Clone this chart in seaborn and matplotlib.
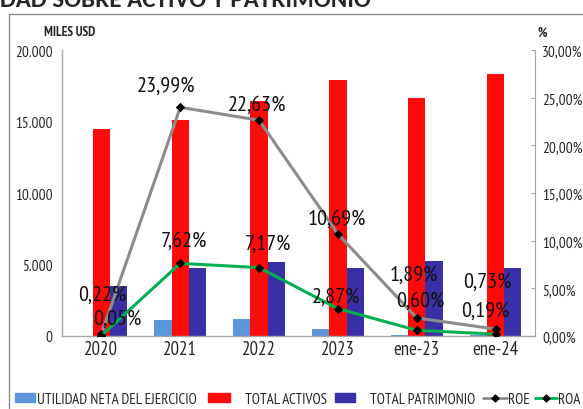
import numpy as np
import pandas as pd
import matplotlib
matplotlib.use("Agg")
import matplotlib.pyplot as plt
from matplotlib.lines import Line2D
from matplotlib.patches import Patch
import seaborn as sns

# ---------------- data ----------------
categories = ["2020", "2021", "2022", "2023", "ene-23", "ene-24"]
utilidad = [8, 1150, 1180, 510, 100, 35]
activos = [14500, 15100, 16450, 17900, 16650, 18300]
patrimonio = [3500, 4750, 5170, 4750, 5250, 4750]
roe = [0.22, 23.99, 22.63, 10.69, 1.89, 0.73]
roa = [0.05, 7.62, 7.17, 2.87, 0.60, 0.19]
series_names = ["UTILIDAD NETA DEL EJERCICIO", "TOTAL ACTIVOS", "TOTAL PATRIMONIO"]
line_names = ["ROE", "ROA"]
left_ticks = [0, 5000, 10000, 15000, 20000]
right_ticks = [0, 5, 10, 15, 20, 25, 30]

# ---------------- style ----------------
sns.set_style("white")
FONT = ["PT Sans Narrow", "Carlito", "DejaVu Sans"]
plt.rcParams["font.family"] = FONT

c_util = "#5B96DA"
c_act = "#FF0A0A"
c_pat = "#3A30A6"
c_roe = "#8C8C8C"
c_roa = "#00B050"
axis_col = "#A6A6A6"

W, H = 583, 410
fig = plt.figure(figsize=(W / 100, H / 100), dpi=100)
ax = fig.add_axes([62 / W, (H - 337) / H, (535 - 62) / W, (337 - 51) / H])

df = pd.DataFrame({
    "cat": np.repeat(categories, 3),
    "serie": series_names * len(categories),
    "valor": np.ravel(np.column_stack([utilidad, activos, patrimonio])),
})
sns.barplot(data=df, x="cat", y="valor", hue="serie", order=categories,
            hue_order=series_names, palette=[c_util, c_act, c_pat],
            width=0.655, gap=0, dodge=True, ax=ax, legend=False,
            edgecolor="none", linewidth=0, saturation=1)

ax.set_ylim(0, 20000)
ax.set_xlim(-0.5, len(categories) - 0.5)
ax.set_yticks(left_ticks)
ax.set_yticklabels([f"{v:,}".replace(",", ".") for v in left_ticks], fontsize=11)
ax.set_xlabel("")
ax.set_ylabel("")
ax.tick_params(axis="x", labelsize=13.5, length=0, pad=3)
ax.tick_params(axis="y", length=0, pad=7)
for s in ["top", "right"]:
    ax.spines[s].set_visible(False)
ax.spines["left"].set_color(axis_col)
ax.spines["bottom"].set_color(axis_col)
ax.spines["left"].set_linewidth(1.0)
ax.spines["bottom"].set_linewidth(1.0)

ax2 = ax.twinx()
xs = np.arange(len(categories))
lines_df = pd.DataFrame({"x": np.concatenate([xs, xs]),
                         "v": roe + roa,
                         "s": [line_names[0]] * len(xs) + [line_names[1]] * len(xs)})
sns.lineplot(data=lines_df, x="x", y="v", hue="s", palette={"ROE": c_roe, "ROA": c_roa},
             ax=ax2, legend=False, linewidth=2.2, marker="D", markersize=4.5,
             markerfacecolor="black", markeredgecolor="black", sort=False)
ax2.set_ylim(0, 30)
ax2.set_xlim(-0.5, len(categories) - 0.5)
ax2.set_yticks(right_ticks)
ax2.set_yticklabels([f"{v:.2f}%".replace(".", ",") for v in right_ticks], fontsize=11)
ax2.set_ylabel("")
ax2.set_xlabel("")
ax2.tick_params(axis="y", direction="in", length=3, color=axis_col, pad=5)
for s in ["top", "left", "bottom"]:
    ax2.spines[s].set_visible(False)
ax2.spines["right"].set_color(axis_col)

# data labels (offsets in pixels -> points)
roe_off = [(1, 40), (-14, 22), (-2, 16), (-1, 16), (-3, 44), (-8, 48)]
roa_off = [(16, 17), (4, 23), (9, 24), (-2, 12), (4, 30), (-10, 24)]
for vals, offs in ((roe, roe_off), (roa, roa_off)):
    for i, (v, (dx, dy)) in enumerate(zip(vals, offs)):
        ax2.annotate(f"{v:.2f}%".replace(".", ","), xy=(i, v),
                     xytext=(dx * 0.72, dy * 0.72), textcoords="offset points",
                     ha="center", va="center", fontsize=16, color="#111111")

# axis unit titles
fig.text(70 / W, 1 - 33 / H, "MILES USD", fontsize=9.5, fontweight="bold",
         ha="center", va="center")
fig.text(542 / W, 1 - 33 / H, "%", fontsize=9.5, fontweight="bold",
         ha="center", va="center")

# cut-off title at top
fig.text(0.0, 1 - 7 / H, "DAD SOBRE ACTIVO Y PATRIMONIO", fontsize=18,
         fontweight="bold", ha="left", va="baseline", family=["Carlito", "DejaVu Sans"])

# frame
fig.add_artist(Line2D([9 / W, 9 / W], [0, 1 - 15 / H], transform=fig.transFigure,
                      color="#8C8C8C", lw=1.0))
fig.add_artist(Line2D([9 / W, 1], [1 - 15 / H, 1 - 15 / H], transform=fig.transFigure,
                      color="#8C8C8C", lw=1.0))

# legend: one entry per legend box, positioned like the reference
LFS = 10.8
em = LFS * 100 / 72.0  # px per em
handles = [Patch(color=c_util), Patch(color=c_act), Patch(color=c_pat),
           Line2D([], [], color=c_roe, lw=2, marker="D", ms=3.5, mfc="black", mec="black"),
           Line2D([], [], color=c_roa, lw=2, marker="D", ms=3.5, mfc="black", mec="black")]
labels = series_names + line_names
starts = [15, 208, 335, 483, 535]       # handle left edge, px
hlen = [20, 22, 20, 24, 22]             # handle length, px
tpad = [2, 15, 15, 1, 1]                # gap handle -> text, px
for h, lab, x0, hl, tp in zip(handles, labels, starts, hlen, tpad):
    lg = fig.legend([h], [lab], loc="center left", bbox_to_anchor=(x0 / W, 1 - 400 / H),
                    frameon=False, fontsize=LFS, handlelength=hl / em,
                    handleheight=0.55, handletextpad=tp / em,
                    borderaxespad=0, borderpad=0)

fig.savefig("out.png", dpi=100)
